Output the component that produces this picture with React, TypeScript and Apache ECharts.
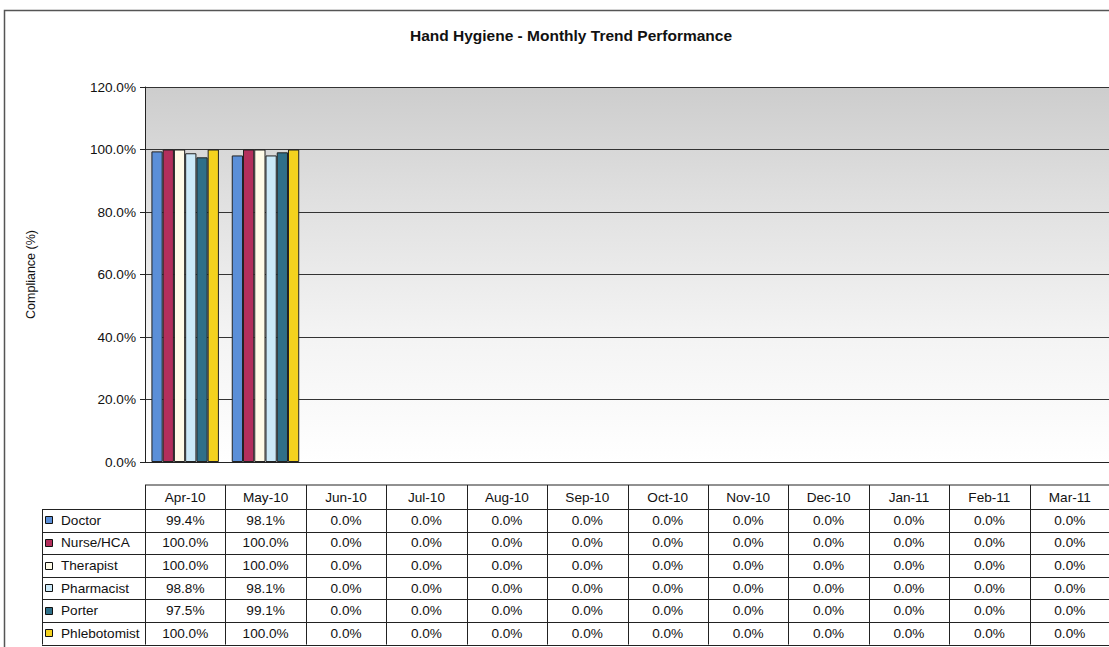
import React, { useEffect, useRef } from "react";
import * as echarts from "echarts";

const months = ["Apr-10", "May-10", "Jun-10", "Jul-10", "Aug-10", "Sep-10", "Oct-10", "Nov-10", "Dec-10", "Jan-11", "Feb-11", "Mar-11"];
const seriesNames = ["Doctor", "Nurse/HCA", "Therapist", "Pharmacist", "Porter", "Phlebotomist"];
const doctor = [99.4, 98.1, 0, 0, 0, 0, 0, 0, 0, 0, 0, 0];
const nurse = [100, 100, 0, 0, 0, 0, 0, 0, 0, 0, 0, 0];
const therapist = [100, 100, 0, 0, 0, 0, 0, 0, 0, 0, 0, 0];
const pharmacist = [98.8, 98.1, 0, 0, 0, 0, 0, 0, 0, 0, 0, 0];
const porter = [97.5, 99.1, 0, 0, 0, 0, 0, 0, 0, 0, 0, 0];
const phlebotomist = [100, 100, 0, 0, 0, 0, 0, 0, 0, 0, 0, 0];
const yTicks = [0, 20, 40, 60, 80, 100, 120];

const seriesData = [doctor, nurse, therapist, pharmacist, porter, phlebotomist];
const colors = ["#5b8fd8", "#b32f5c", "#fffbe8", "#cbe9f8", "#2f6f88", "#f4d21e"];

const FONT = "Liberation Sans, Arial, sans-serif";
const GRID_LEFT = 145;
const GRID_TOP = 87;
const GRID_H = 375;
const GRID_W = 965;
const TABLE_LEFT = 42;
const HEAD_TOP = 485;
const HEAD_H = 24;
const ROW_H = 22.6;
const TFONT = `13.6px ${FONT}`;

export default function App() {
  const ref = useRef<HTMLDivElement>(null);
  useEffect(() => {
    if (!ref.current) return;
    const chart = echarts.init(ref.current, null, { renderer: "svg" });
    const colW = GRID_W / months.length;
    const right = GRID_LEFT + GRID_W + 5;
    const tableBottom = HEAD_TOP + HEAD_H + ROW_H * seriesNames.length;
    const g: any[] = [];
    const lineStyle = { stroke: "#222", lineWidth: 1 };
    g.push({ type: "rect", shape: { x: 4.5, y: 10.5, width: 1200, height: 700 }, style: { fill: "none", stroke: "#555", lineWidth: 1.5 }, silent: true });
    g.push({ type: "line", shape: { x1: GRID_LEFT, y1: HEAD_TOP, x2: right, y2: HEAD_TOP }, style: lineStyle });
    for (let r = 0; r <= seriesNames.length; r++) {
      const y = Math.round(HEAD_TOP + HEAD_H + r * ROW_H) + 0.5;
      g.push({ type: "line", shape: { x1: TABLE_LEFT, y1: y, x2: right, y2: y }, style: lineStyle });
    }
    g.push({ type: "line", shape: { x1: TABLE_LEFT + 0.5, y1: HEAD_TOP + HEAD_H, x2: TABLE_LEFT + 0.5, y2: tableBottom }, style: lineStyle });
    for (let c = 0; c <= months.length; c++) {
      const x = Math.round(GRID_LEFT + c * colW) + 0.5;
      g.push({ type: "line", shape: { x1: x, y1: HEAD_TOP, x2: x, y2: tableBottom }, style: lineStyle });
    }
    months.forEach((m, c) => {
      g.push({ type: "text", x: GRID_LEFT + (c + 0.5) * colW, y: HEAD_TOP + HEAD_H / 2, style: { text: m, fill: "#111", font: TFONT, textAlign: "center", textVerticalAlign: "middle" } });
    });
    seriesNames.forEach((name, r) => {
      const cy = HEAD_TOP + HEAD_H + (r + 0.5) * ROW_H;
      g.push({ type: "rect", shape: { x: 45.5, y: Math.round(cy - 4) + 0.5, width: 7, height: 7 }, style: { fill: colors[r], stroke: "#111", lineWidth: 1 } });
      g.push({ type: "text", x: 61, y: cy, style: { text: name, fill: "#111", font: TFONT, textAlign: "left", textVerticalAlign: "middle" } });
      seriesData[r].forEach((v, c) => {
        g.push({ type: "text", x: GRID_LEFT + (c + 0.5) * colW, y: cy, style: { text: v.toFixed(1) + "%", fill: "#111", font: TFONT, textAlign: "center", textVerticalAlign: "middle" } });
      });
    });

    chart.setOption({
      animation: false,
      backgroundColor: "#ffffff",
      title: {
        text: "Hand Hygiene - Monthly Trend Performance",
        left: 566,
        top: 22,
        textAlign: "center",
        textStyle: { fontFamily: FONT, fontSize: 15.5, fontWeight: "bold", color: "#111" },
      },
      grid: {
        left: GRID_LEFT,
        top: GRID_TOP,
        width: GRID_W,
        height: GRID_H,
        show: true,
        borderWidth: 0,
        backgroundColor: new echarts.graphic.LinearGradient(0, 0, 0, 1, [
          { offset: 0, color: "#cdcdcd" },
          { offset: 0.3, color: "#e0e0e0" },
          { offset: 0.65, color: "#f3f3f3" },
          { offset: 1, color: "#ffffff" },
        ]),
      },
      xAxis: {
        type: "category",
        data: months,
        axisLine: { show: true, lineStyle: { color: "#222", width: 1 } },
        axisTick: { show: false },
        axisLabel: { show: false },
        splitLine: { show: false },
      },
      yAxis: {
        type: "value",
        min: 0,
        max: 120,
        interval: 20,
        name: "Compliance (%)",
        nameLocation: "middle",
        nameGap: 108,
        nameRotate: 90,
        nameTextStyle: { fontFamily: FONT, fontSize: 12.5, color: "#111" },
        axisLine: { show: true, lineStyle: { color: "#222", width: 1 } },
        axisTick: { show: true, length: 5, lineStyle: { color: "#222" } },
        axisLabel: {
          fontFamily: FONT,
          fontSize: 13.6,
          color: "#111",
          margin: 9,
          formatter: (v: number) => (yTicks.includes(v) ? v.toFixed(1) + "%" : ""),
        },
        splitLine: { show: true, lineStyle: { color: "#333", width: 1 } },
      },
      series: seriesNames.map((name, i) => ({
        name,
        type: "bar",
        data: seriesData[i].map((v) => (v === 0 ? "-" : v)),
        barGap: "0%",
        barCategoryGap: "16%",
        itemStyle: { color: colors[i], borderColor: "#222", borderWidth: 1 },
      })),
      graphic: g,
    });
    return () => chart.dispose();
  }, []);
  return (
    <div
      ref={ref}
      style={{ position: "fixed", left: 0, top: 0, width: 1109, height: 647, background: "#fff" }}
    />
  );
}
